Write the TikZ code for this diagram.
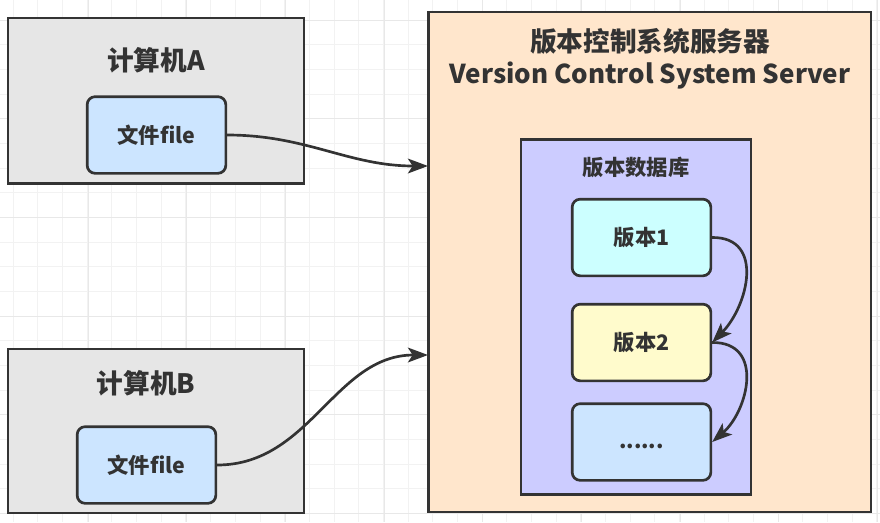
\documentclass[tikz,border=0pt]{standalone}
\usepackage{fontspec}
\setmainfont{Noto Sans CJK SC}
\usetikzlibrary{arrows.meta}

\definecolor{ink}{HTML}{333333}
\definecolor{compfill}{HTML}{E6E6E6}
\definecolor{filefill}{HTML}{CCE5FF}
\definecolor{serverfill}{HTML}{FFE6CC}
\definecolor{dbfill}{HTML}{CCCCFF}
\definecolor{vonefill}{HTML}{CCFFFF}
\definecolor{vtwofill}{HTML}{FFFBCC}

\begin{document}
\begin{tikzpicture}[x=0.75pt, y=-0.75pt, text=ink,
  box/.style={draw=ink, line width=2pt, inner sep=0pt},
  filebox/.style={box, rounded corners=6pt, fill=filefill, minimum width=104pt, minimum height=57.5pt, font=\fontsize{16}{19}\selectfont\bfseries},
  title/.style={font=\fontsize{20}{24}\selectfont\bfseries},
  link/.style={draw=ink, line width=2pt, -{Stealth[length=15pt, width=11pt, inset=3.5pt]}},
  gridminor/.style={draw=black!5, line width=0.75pt},
  gridmajor/.style={draw=black!9, line width=0.75pt}]
  \useasboundingbox (0,0) rectangle (880,522);
  \fill[white] (0,0) rectangle (880,522);

  % background grid
  \foreach \i in {0,...,35} \draw[gridminor] ({13.3+\i*24.67},0) -- ++(0,522);
  \foreach \i in {0,...,21} \draw[gridminor] (0,{20+\i*24.67}) -- ++(880,0);
  \foreach \i in {0,...,8} \draw[gridmajor] ({88+\i*98.7},0) -- ++(0,522);
  \foreach \i in {0,...,5} \draw[gridmajor] (0,{20+\i*98.7}) -- ++(880,0);

  % computers (left side)
  \node[box, fill=compfill, minimum width=222pt, minimum height=124pt] (compA) at (156,100.5) {};
  \node[title] (titleA) at (156,60) {计算机A};
  \node[filebox] (fileA) at (156.5,135) {文件file};

  \node[box, fill=compfill, minimum width=222pt, minimum height=123pt] (compB) at (156,431) {};
  \node[title] (titleB) at (146,383) {计算机B};
  \node[filebox] (fileB) at (146.5,465) {文件file};

  % server and its database (right side)
  \node[box, fill=serverfill, minimum width=332pt, minimum height=375pt] (server) at (649.5,262) {};
  \node[title, align=center] (serverTitle) at (650,59) {版本控制系统服务器\\\fontsize{19.5}{24}\selectfont Version Control System Server};
  \node[box, fill=dbfill, minimum width=172.5pt, minimum height=266pt] (db) at (636,317) {};
  \node[font=\fontsize{16}{19}\selectfont\bfseries] (dbTitle) at (636,167) {版本数据库};
  \node[filebox, fill=vonefill] (v1) at (641.5,237.5) {版本1};
  \node[filebox, fill=vtwofill] (v2) at (641.5,342.5) {版本2};
  \node[filebox] (v3) at (641.5,442) {\smash{\raisebox{-5pt}{......}}};

  % files sent to the server
  \coordinate (inA) at (428,166);
  \coordinate (inB) at (428,355);
  \draw[link] (fileA.east) to[out=0, in=180] (inA);
  \draw[link] (fileB.east) to[out=0, in=180] (inB);

  % version chain
  \draw[link] (v1.east) .. controls (765,237) and (748,306) .. (v2.east);
  \draw[link] (v2.east) .. controls (765,342) and (748,411) .. (v3.east);
\end{tikzpicture}
\end{document}
